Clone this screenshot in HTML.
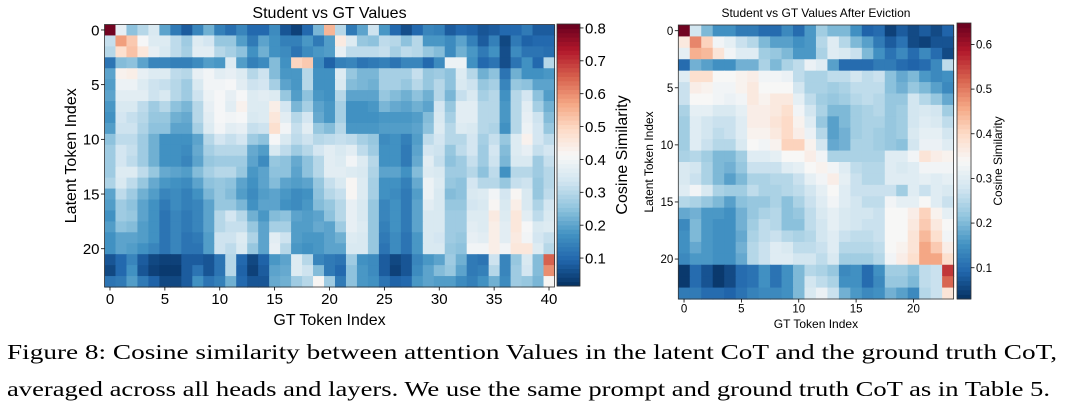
<!DOCTYPE html>
<html><head><meta charset="utf-8"><style>
body{margin:0;background:#fff;width:1068px;height:407px;overflow:hidden}
svg{display:block;font-family:"Liberation Sans",sans-serif}
</style></head><body>
<svg id="fig" width="1068" height="407" viewBox="0 0 1068 407" xmlns="http://www.w3.org/2000/svg">
<g id="left"></g>
<g id="right"></g>
<text x="7" y="359" font-family="Liberation Serif" font-size="21.5" textLength="1050" lengthAdjust="spacingAndGlyphs">Figure 8: Cosine similarity between attention Values in the latent CoT and the ground truth CoT,</text>
<text x="7" y="396" font-family="Liberation Serif" font-size="21.5" textLength="1043" lengthAdjust="spacingAndGlyphs">averaged across all heads and layers. We use the same prompt and ground truth CoT as in Table 5.</text>
</svg>
<script>
// ---- Left chart data (rows = latent tokens 0..23, cols = GT tokens 0..40)
const leftRows = [
[0.8,0.38,0.25,0.3,0.35,0.2,0.13,0.08,0.15,0.22,0.14,0.11,0.15,0.1,0.1,0.16,0.07,0.04,0.1,0.23,0.55,0.3,0.13,0.2,0.33,0.18,0.1,0.06,0.1,0.15,0.14,0.08,0.1,0.09,0.07,0.08,0.1,0.1,0.13,0.08,0.08],
[0.32,0.58,0.52,0.41,0.36,0.36,0.31,0.27,0.36,0.34,0.26,0.26,0.19,0.13,0.2,0.17,0.14,0.14,0.18,0.13,0.19,0.45,0.36,0.26,0.25,0.31,0.3,0.25,0.3,0.18,0.18,0.16,0.2,0.14,0.08,0.14,0.05,0.13,0.09,0.1,0.1],
[0.3,0.48,0.53,0.46,0.38,0.35,0.31,0.28,0.37,0.37,0.3,0.28,0.25,0.17,0.22,0.17,0.16,0.12,0.16,0.18,0.19,0.38,0.31,0.31,0.31,0.32,0.28,0.31,0.3,0.26,0.24,0.16,0.22,0.18,0.13,0.17,0.06,0.16,0.12,0.12,0.11],
[0.12,0.24,0.25,0.2,0.15,0.15,0.14,0.14,0.16,0.19,0.18,0.36,0.19,0.14,0.16,0.24,0.17,0.5,0.52,0.16,0.09,0.14,0.15,0.12,0.13,0.14,0.12,0.15,0.15,0.1,0.16,0.39,0.39,0.17,0.1,0.12,0.06,0.12,0.17,0.1,0.3],
[0.2,0.43,0.44,0.38,0.36,0.36,0.31,0.3,0.38,0.4,0.37,0.38,0.36,0.3,0.33,0.24,0.18,0.18,0.3,0.17,0.17,0.36,0.26,0.23,0.23,0.28,0.28,0.28,0.32,0.26,0.27,0.25,0.36,0.3,0.22,0.25,0.12,0.22,0.17,0.17,0.18],
[0.19,0.39,0.39,0.36,0.33,0.32,0.3,0.27,0.35,0.4,0.4,0.41,0.37,0.33,0.34,0.28,0.2,0.18,0.3,0.17,0.17,0.35,0.24,0.23,0.22,0.28,0.28,0.26,0.3,0.26,0.3,0.25,0.35,0.33,0.26,0.28,0.15,0.26,0.25,0.2,0.2],
[0.2,0.37,0.37,0.37,0.33,0.35,0.3,0.27,0.33,0.39,0.41,0.38,0.41,0.36,0.37,0.36,0.26,0.19,0.25,0.18,0.17,0.3,0.2,0.2,0.2,0.26,0.24,0.22,0.25,0.22,0.3,0.23,0.32,0.35,0.28,0.3,0.17,0.3,0.34,0.25,0.19],
[0.18,0.35,0.35,0.31,0.27,0.3,0.25,0.23,0.3,0.38,0.41,0.37,0.43,0.36,0.36,0.44,0.34,0.23,0.28,0.2,0.18,0.28,0.17,0.17,0.18,0.23,0.21,0.2,0.22,0.2,0.34,0.26,0.37,0.37,0.3,0.3,0.18,0.3,0.37,0.28,0.22],
[0.17,0.34,0.32,0.3,0.26,0.26,0.22,0.21,0.3,0.37,0.41,0.4,0.41,0.35,0.36,0.46,0.37,0.3,0.34,0.21,0.18,0.28,0.17,0.17,0.17,0.18,0.18,0.18,0.19,0.24,0.35,0.28,0.37,0.37,0.3,0.3,0.18,0.3,0.38,0.33,0.24],
[0.19,0.33,0.33,0.29,0.25,0.25,0.2,0.2,0.28,0.36,0.4,0.37,0.38,0.32,0.33,0.48,0.4,0.32,0.37,0.26,0.24,0.3,0.18,0.18,0.18,0.19,0.19,0.19,0.2,0.25,0.36,0.3,0.36,0.35,0.3,0.29,0.17,0.3,0.39,0.34,0.26],
[0.25,0.31,0.31,0.27,0.22,0.17,0.17,0.17,0.2,0.3,0.34,0.32,0.34,0.27,0.25,0.41,0.35,0.31,0.33,0.3,0.31,0.32,0.31,0.28,0.26,0.16,0.17,0.14,0.19,0.31,0.34,0.3,0.3,0.34,0.28,0.32,0.26,0.36,0.43,0.34,0.31],
[0.27,0.34,0.32,0.27,0.22,0.17,0.17,0.16,0.21,0.28,0.3,0.3,0.3,0.21,0.19,0.35,0.31,0.27,0.3,0.34,0.37,0.35,0.37,0.31,0.27,0.17,0.17,0.13,0.2,0.34,0.33,0.26,0.31,0.34,0.27,0.34,0.24,0.36,0.38,0.32,0.34],
[0.27,0.34,0.31,0.27,0.22,0.17,0.17,0.15,0.2,0.26,0.27,0.27,0.27,0.2,0.16,0.26,0.25,0.21,0.25,0.3,0.37,0.36,0.4,0.36,0.3,0.17,0.17,0.13,0.21,0.37,0.32,0.25,0.27,0.32,0.27,0.33,0.23,0.35,0.35,0.27,0.32],
[0.27,0.36,0.36,0.31,0.26,0.21,0.2,0.19,0.24,0.28,0.3,0.3,0.26,0.18,0.2,0.25,0.25,0.2,0.25,0.3,0.37,0.37,0.36,0.35,0.29,0.2,0.2,0.17,0.24,0.36,0.35,0.27,0.27,0.3,0.25,0.31,0.17,0.3,0.3,0.27,0.3],
[0.29,0.35,0.31,0.26,0.21,0.18,0.17,0.16,0.2,0.25,0.26,0.25,0.2,0.17,0.2,0.24,0.2,0.19,0.2,0.26,0.32,0.35,0.42,0.36,0.28,0.17,0.17,0.14,0.21,0.39,0.36,0.26,0.25,0.34,0.3,0.3,0.26,0.32,0.33,0.26,0.3],
[0.2,0.31,0.27,0.22,0.19,0.15,0.16,0.14,0.17,0.23,0.26,0.24,0.19,0.16,0.19,0.2,0.18,0.16,0.17,0.25,0.3,0.32,0.42,0.36,0.28,0.17,0.16,0.13,0.19,0.39,0.35,0.24,0.25,0.35,0.36,0.4,0.34,0.42,0.35,0.26,0.31],
[0.19,0.27,0.25,0.2,0.17,0.13,0.16,0.14,0.15,0.2,0.26,0.26,0.23,0.17,0.2,0.2,0.17,0.16,0.18,0.24,0.26,0.3,0.38,0.35,0.26,0.15,0.17,0.13,0.2,0.37,0.35,0.26,0.26,0.34,0.35,0.42,0.35,0.44,0.35,0.29,0.34],
[0.17,0.27,0.26,0.2,0.17,0.12,0.15,0.13,0.15,0.2,0.3,0.34,0.3,0.22,0.18,0.24,0.25,0.2,0.19,0.2,0.25,0.3,0.38,0.35,0.26,0.15,0.17,0.13,0.2,0.35,0.35,0.27,0.27,0.36,0.36,0.45,0.36,0.46,0.37,0.31,0.35],
[0.19,0.25,0.24,0.19,0.17,0.12,0.15,0.13,0.15,0.2,0.3,0.32,0.32,0.26,0.2,0.28,0.28,0.19,0.19,0.21,0.2,0.27,0.38,0.36,0.26,0.14,0.17,0.13,0.2,0.35,0.35,0.27,0.27,0.37,0.36,0.44,0.37,0.46,0.41,0.35,0.36],
[0.17,0.2,0.2,0.19,0.17,0.12,0.15,0.12,0.13,0.19,0.33,0.33,0.36,0.29,0.2,0.37,0.33,0.19,0.18,0.18,0.2,0.22,0.36,0.35,0.26,0.13,0.16,0.12,0.18,0.35,0.34,0.27,0.26,0.38,0.37,0.44,0.37,0.45,0.4,0.34,0.32],
[0.17,0.2,0.19,0.17,0.15,0.12,0.15,0.12,0.12,0.19,0.33,0.31,0.35,0.26,0.2,0.38,0.3,0.18,0.17,0.18,0.2,0.2,0.35,0.35,0.26,0.12,0.16,0.12,0.18,0.35,0.35,0.26,0.25,0.4,0.4,0.44,0.4,0.46,0.46,0.36,0.3],
[0.07,0.1,0.15,0.08,0.05,0.04,0.04,0.08,0.08,0.07,0.12,0.3,0.1,0.05,0.09,0.18,0.2,0.36,0.3,0.15,0.13,0.12,0.27,0.17,0.16,0.08,0.05,0.07,0.15,0.18,0.2,0.27,0.22,0.13,0.12,0.33,0.15,0.26,0.35,0.24,0.65],
[0.05,0.1,0.17,0.07,0.04,0.03,0.03,0.08,0.12,0.07,0.12,0.3,0.09,0.04,0.08,0.2,0.21,0.36,0.33,0.24,0.13,0.1,0.25,0.18,0.16,0.08,0.04,0.07,0.16,0.2,0.24,0.26,0.2,0.13,0.14,0.3,0.15,0.27,0.34,0.24,0.6],
[0.12,0.13,0.19,0.13,0.09,0.05,0.05,0.08,0.17,0.12,0.14,0.22,0.1,0.07,0.07,0.21,0.22,0.27,0.3,0.42,0.27,0.13,0.25,0.18,0.17,0.12,0.09,0.1,0.18,0.2,0.19,0.19,0.16,0.14,0.17,0.22,0.16,0.27,0.26,0.23,0.42]
];
const leftXTicks = [0,5,10,15,20,25,30,35,40];
const leftYTicks = [0,5,10,15,20];
const leftCbarTicks = [0.1,0.2,0.3,0.4,0.5,0.6,0.7,0.8];
const leftRange = [0.015,0.812];

// ---- Right chart data (24 x 24)
const rightRows = [
[0.64,0.28,0.2,0.15,0.15,0.12,0.12,0.1,0.1,0.14,0.1,0.16,0.23,0.2,0.2,0.15,0.09,0.1,0.05,0.08,0.06,0.08,0.06,0.09],
[0.37,0.49,0.41,0.33,0.31,0.27,0.25,0.2,0.17,0.17,0.15,0.16,0.25,0.3,0.25,0.2,0.17,0.12,0.08,0.11,0.06,0.05,0.07,0.07],
[0.31,0.45,0.44,0.38,0.33,0.3,0.3,0.23,0.22,0.2,0.16,0.16,0.24,0.3,0.29,0.27,0.2,0.15,0.11,0.14,0.1,0.14,0.1,0.06],
[0.1,0.19,0.17,0.15,0.15,0.19,0.19,0.24,0.2,0.24,0.26,0.32,0.3,0.17,0.1,0.1,0.1,0.12,0.12,0.1,0.09,0.1,0.14,0.26],
[0.3,0.39,0.39,0.34,0.34,0.35,0.36,0.33,0.33,0.32,0.26,0.24,0.24,0.26,0.26,0.28,0.26,0.27,0.21,0.18,0.2,0.16,0.14,0.15],
[0.27,0.36,0.35,0.33,0.33,0.35,0.37,0.34,0.34,0.34,0.28,0.24,0.24,0.23,0.24,0.26,0.26,0.26,0.21,0.19,0.22,0.2,0.17,0.14],
[0.27,0.34,0.34,0.33,0.32,0.33,0.37,0.35,0.37,0.37,0.31,0.26,0.23,0.22,0.23,0.25,0.26,0.25,0.22,0.22,0.28,0.25,0.22,0.18],
[0.24,0.31,0.31,0.29,0.29,0.31,0.36,0.36,0.37,0.39,0.33,0.28,0.24,0.2,0.2,0.23,0.24,0.25,0.22,0.23,0.28,0.29,0.28,0.23],
[0.23,0.3,0.28,0.27,0.27,0.3,0.36,0.36,0.38,0.4,0.35,0.3,0.22,0.17,0.2,0.23,0.24,0.24,0.22,0.23,0.28,0.3,0.29,0.26],
[0.23,0.3,0.28,0.26,0.27,0.3,0.35,0.35,0.37,0.4,0.36,0.32,0.25,0.17,0.19,0.23,0.24,0.23,0.22,0.23,0.29,0.31,0.31,0.28],
[0.23,0.3,0.27,0.25,0.25,0.29,0.34,0.33,0.35,0.41,0.41,0.35,0.28,0.18,0.19,0.24,0.24,0.23,0.22,0.21,0.28,0.32,0.32,0.3],
[0.24,0.25,0.23,0.2,0.2,0.23,0.3,0.3,0.31,0.34,0.34,0.36,0.33,0.24,0.24,0.24,0.24,0.24,0.3,0.3,0.33,0.38,0.36,0.35],
[0.29,0.28,0.24,0.2,0.19,0.22,0.27,0.27,0.27,0.3,0.31,0.34,0.35,0.33,0.3,0.26,0.25,0.25,0.3,0.29,0.3,0.33,0.33,0.33],
[0.29,0.27,0.24,0.2,0.17,0.2,0.24,0.24,0.25,0.25,0.27,0.31,0.33,0.36,0.31,0.27,0.25,0.25,0.3,0.3,0.3,0.31,0.3,0.31],
[0.3,0.33,0.29,0.24,0.23,0.23,0.26,0.24,0.24,0.25,0.26,0.28,0.31,0.34,0.3,0.27,0.27,0.27,0.27,0.23,0.3,0.27,0.3,0.29],
[0.25,0.24,0.22,0.2,0.17,0.21,0.22,0.22,0.24,0.21,0.24,0.27,0.3,0.33,0.3,0.28,0.26,0.26,0.33,0.31,0.31,0.34,0.3,0.27],
[0.18,0.19,0.16,0.16,0.15,0.19,0.22,0.24,0.25,0.21,0.22,0.26,0.29,0.31,0.29,0.28,0.28,0.27,0.34,0.34,0.36,0.41,0.35,0.31],
[0.14,0.2,0.16,0.15,0.15,0.19,0.23,0.26,0.25,0.21,0.21,0.26,0.28,0.31,0.29,0.28,0.27,0.27,0.34,0.34,0.37,0.42,0.37,0.34],
[0.15,0.2,0.16,0.15,0.15,0.18,0.24,0.26,0.27,0.25,0.24,0.25,0.28,0.3,0.27,0.26,0.26,0.27,0.34,0.34,0.38,0.44,0.39,0.33],
[0.15,0.18,0.16,0.15,0.15,0.19,0.25,0.27,0.3,0.29,0.26,0.26,0.27,0.3,0.25,0.25,0.25,0.26,0.34,0.35,0.38,0.46,0.42,0.36],
[0.14,0.16,0.16,0.15,0.15,0.18,0.25,0.27,0.3,0.3,0.28,0.28,0.26,0.29,0.23,0.23,0.23,0.25,0.33,0.36,0.39,0.46,0.46,0.39],
[0.04,0.1,0.07,0.04,0.06,0.1,0.11,0.15,0.11,0.15,0.2,0.25,0.24,0.22,0.14,0.15,0.1,0.15,0.23,0.23,0.21,0.26,0.27,0.56],
[0.04,0.1,0.07,0.04,0.06,0.1,0.11,0.15,0.11,0.15,0.2,0.28,0.26,0.24,0.15,0.15,0.1,0.14,0.22,0.22,0.2,0.26,0.27,0.52],
[0.12,0.12,0.1,0.1,0.09,0.11,0.13,0.14,0.14,0.15,0.2,0.29,0.32,0.27,0.19,0.16,0.14,0.15,0.19,0.17,0.14,0.25,0.27,0.38]
];
const rightXTicks = [0,5,10,15,20];
const rightYTicks = [0,5,10,15,20];
const rightCbarTicks = [0.1,0.2,0.3,0.4,0.5,0.6];
const rightRange = [0.03,0.648];

const NS = "http://www.w3.org/2000/svg";
const stops = ["#053061","#2166ac","#4393c3","#92c5de","#d1e5f0","#f7f7f7","#fddbc7","#f4a582","#d6604d","#b2182b","#67001f"];
function hex(h){return [parseInt(h.substr(1,2),16),parseInt(h.substr(3,2),16),parseInt(h.substr(5,2),16)];}
function cmap(t){
  t=Math.max(0,Math.min(1,t));
  const p=t*10, i=Math.min(9,Math.floor(p)), f=p-i;
  const a=hex(stops[i]), b=hex(stops[i+1]);
  return "rgb("+a.map((v,k)=>Math.round(v+(b[k]-v)*f)).join(",")+")";
}
function el(tag,attrs,parent){const e=document.createElementNS(NS,tag);for(const k in attrs)e.setAttribute(k,attrs[k]);parent.appendChild(e);return e;}

function draw(g, rows, xTicks, yTicks, cTicks, range, L){
  const nr=rows.length, nc=rows[0].length;
  const cw=(L.x1-L.x0)/nc, ch=(L.y1-L.y0)/nr;
  const xs=c=>L.x0+c*cw, ys=r=>L.y0+r*ch;
  const norm=v=>(v-range[0])/(range[1]-range[0]);
  for(let r=0;r<nr;r++)for(let c=0;c<nc;c++){
    const rc=el("rect",{x:xs(c),y:ys(r),width:cw+0.6,height:ch+0.6,fill:cmap(norm(rows[r][c]))},g);
    
    
  }
  const fr=el("rect",{x:L.x0,y:L.y0,width:L.x1-L.x0,height:L.y1-L.y0,fill:"none",stroke:"#333","stroke-width":0.8},g);
  
  
  xTicks.forEach(t=>{
    const x=xs(t+0.5);
    el("line",{x1:x,x2:x,y1:L.y1,y2:L.y1+3.5,stroke:"#000","stroke-width":0.8},g);
    const tx=el("text",{x:x,y:L.y1+L.fs+2,"text-anchor":"middle","font-size":L.fs},g);
    tx.textContent=t;
    
    
  });
  yTicks.forEach(t=>{
    const y=ys(t+0.5);
    el("line",{x1:L.x0-3.5,x2:L.x0,y1:y,y2:y,stroke:"#000","stroke-width":0.8},g);
    const tx=el("text",{x:L.x0-5,y:y+L.fs*0.36,"text-anchor":"end","font-size":L.fs},g);
    tx.textContent=t;
    
    
  });
  // colorbar
  const cb=el("g",{},g);
  
  
  const n=60, h=(L.cy1-L.cy0)/n;
  for(let i=0;i<n;i++){
    el("rect",{x:L.cx0,y:L.cy1-(i+1)*h,width:L.cx1-L.cx0,height:h+0.5,fill:cmap((i+0.5)/n)},cb);
  }
  el("rect",{x:L.cx0,y:L.cy0,width:L.cx1-L.cx0,height:L.cy1-L.cy0,fill:"none",stroke:"#333","stroke-width":0.8},cb);
  const cy=v=>L.cy1-(v-range[0])/(range[1]-range[0])*(L.cy1-L.cy0);
  cTicks.forEach(t=>{
    const y=cy(t);
    el("line",{x1:L.cx1,x2:L.cx1+3.5,y1:y,y2:y,stroke:"#000","stroke-width":0.8},cb);
    const tx=el("text",{x:L.cx1+5,y:y+L.fs*0.36,"font-size":L.fs},cb);
    tx.textContent=t.toFixed(1);
    
    
  });
  const t1=el("text",{x:(L.x0+L.x1)/2,y:L.ty,"text-anchor":"middle","font-size":L.tfs},g);
  t1.textContent=L.title;
  
  
  const xl=el("text",{x:(L.x0+L.x1)/2,y:L.xly,"text-anchor":"middle","font-size":L.lfs},g);
  xl.textContent="GT Token Index";
  
  
  const yl=el("text",{x:0,y:0,"text-anchor":"middle","font-size":L.lfs,transform:"translate("+L.ylx+","+(L.y0+L.y1)/2+") rotate(-90)"},g);
  yl.textContent="Latent Token Index";
  
  
  const cl=el("text",{x:0,y:0,"text-anchor":"middle","font-size":L.lfs,transform:"translate("+L.clx+","+(L.cy0+L.cy1)/2+") rotate(-90)"},g);
  cl.textContent="Cosine Similarity";
  
  
}
draw(document.getElementById("left"), leftRows, leftXTicks, leftYTicks, leftCbarTicks, leftRange,
 {x0:104.5,x1:554.5,y0:24.5,y1:287,cx0:557,cx1:580,cy0:24,cy1:286,fs:15,tfs:16,lfs:16,
  title:"Student vs GT Values",ty:18,xly:325,ylx:76,clx:627});
draw(document.getElementById("right"), rightRows, rightXTicks, rightYTicks, rightCbarTicks, rightRange,
 {x0:678.3,x1:953.6,y0:25,y1:299,cx0:957,cx1:971,cy0:23,cy1:299,fs:11.5,tfs:12,lfs:12,
  title:"Student vs GT Values After Eviction",ty:17,xly:328,ylx:653,clx:1002});
</script>
</body></html>
